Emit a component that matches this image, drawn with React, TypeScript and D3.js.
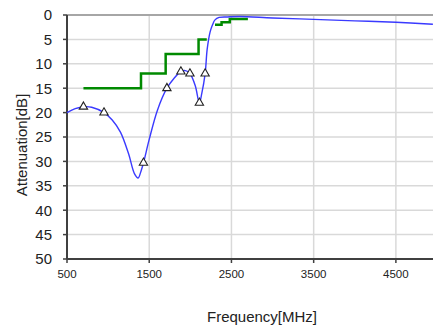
import * as d3 from 'd3';

// measured response (MHz, dB)
const freqs = [500, 600, 700, 800, 950, 1050, 1150, 1250, 1320, 1365, 1400, 1430, 1500, 1600, 1715, 1800, 1885, 1940, 1995, 2060, 2110, 2140, 2180, 2205, 2240, 2270, 2300, 2350, 2450, 2600, 3000, 3500, 4000, 4500, 4950];
const atten = [20, 19.2, 18.8, 18.9, 20, 21.5, 24, 28.5, 32.5, 33.4, 32, 30.3, 25.5, 19.5, 15, 13, 11.6, 11.4, 12, 14.5, 18, 16, 12, 7, 3.5, 2, 1, 0.5, 0.4, 0.3, 0.6, 0.9, 1.2, 1.5, 1.9];

// triangle markers
const markFreqs = [700, 950, 1430, 1715, 1885, 1995, 2110, 2180];
const markAtten = [18.8, 20, 30.3, 15, 11.6, 12, 18, 12];

// spec mask (green), null splits the line
const specFreqs = [700, 1400, 1400, 1700, 1700, 2100, 2100, 2200, null, 2300, 2380, 2380, 2480, 2480, 2700];
const specAtten = [15, 15, 12, 12, 8, 8, 5, 5, null, 2, 2, 1.5, 1.5, 0.8, 0.8];

const xTicks = [500, 1500, 2500, 3500, 4500];
const yTicks = [0, 5, 10, 15, 20, 25, 30, 35, 40, 45, 50];

function App() {
    const width = 433;
    const height = 329;
    const margin = { top: 15, left: 67, bottom: 259 };

    const x = d3.scaleLinear().domain([500, 5000]).range([margin.left, margin.left + 370]);
    const y = d3.scaleLinear().domain([0, 50]).range([margin.top, margin.bottom]);

    const curve = d3.line<number>()
        .x((d, i) => x(freqs[i]))
        .y((d) => y(d))
        .curve(d3.curveCatmullRom.alpha(0.5));

    const spec = d3.line<number | null>()
        .defined((d) => d !== null)
        .x((d, i) => x(specFreqs[i] as number))
        .y((d) => y(d as number));

    const tri = d3.symbol().type(d3.symbolTriangle).size(30)();
    const font = '"Liberation Sans", Arial, sans-serif';

    return (
        <svg width={width} height={height} style={{ position: 'absolute', left: 0, top: 0, background: '#fff' }}>
            {/* grid */}
            {yTicks.map((t) => (
                <line key={'gy' + t} x1={x(500)} x2={width} y1={y(t)} y2={y(t)} stroke="#d9d9d9" strokeWidth={1.5} />
            ))}
            {xTicks.slice(1).map((t) => (
                <line key={'gx' + t} x1={x(t)} x2={x(t)} y1={y(0)} y2={y(50)} stroke="#d9d9d9" strokeWidth={1.5} />
            ))}
            <line x1={x(500)} x2={width} y1={y(0)} y2={y(0)} stroke="#a6a6a6" strokeWidth={2} />

            {/* axes */}
            <line x1={x(500)} x2={x(500)} y1={y(0)} y2={y(50)} stroke="#404040" strokeWidth={2} />
            <line x1={x(500)} x2={width} y1={y(50)} y2={y(50)} stroke="#404040" strokeWidth={2} />
            {yTicks.map((t) => (
                <g key={'ty' + t}>
                    <line x1={x(500) - 4} x2={x(500)} y1={y(t)} y2={y(t)} stroke="#404040" strokeWidth={1.5} />
                    <text x={52} y={y(t)} dy="0.36em" textAnchor="end" fontSize={15} fontFamily={font} fill="#222">{t}</text>
                </g>
            ))}
            {xTicks.map((t) => (
                <g key={'tx' + t}>
                    <line x1={x(t)} x2={x(t)} y1={y(50)} y2={y(50) + 4} stroke="#404040" strokeWidth={1.5} />
                    <text x={x(t)} y={274} dy="0.36em" textAnchor="middle" fontSize={11.5} fontFamily={font} fill="#222">{t}</text>
                </g>
            ))}

            {/* spec mask */}
            <path d={spec(specAtten) || ''} fill="none" stroke="#008a00" strokeWidth={2.5} />

            {/* response */}
            <path d={curve(atten) || ''} fill="none" stroke="#3a3aff" strokeWidth={1.4} />

            {markFreqs.map((f, i) => (
                <path key={'m' + i} d={tri || ''} transform={`translate(${x(f)},${y(markAtten[i])})`} fill="#fff" stroke="#222" strokeWidth={1.1} />
            ))}

            {/* titles */}
            <text transform={`translate(22,${(y(0) + y(50)) / 2 + 8}) rotate(-90)`} textAnchor="middle" dy="0.36em" fontSize={15} fontFamily={font} fill="#222">Attenuation[dB]</text>
            <text x={262} y={317} dy="0.36em" textAnchor="middle" fontSize={15} fontFamily={font} fill="#222">Frequency[MHz]</text>
        </svg>
    );
}

export default App;
